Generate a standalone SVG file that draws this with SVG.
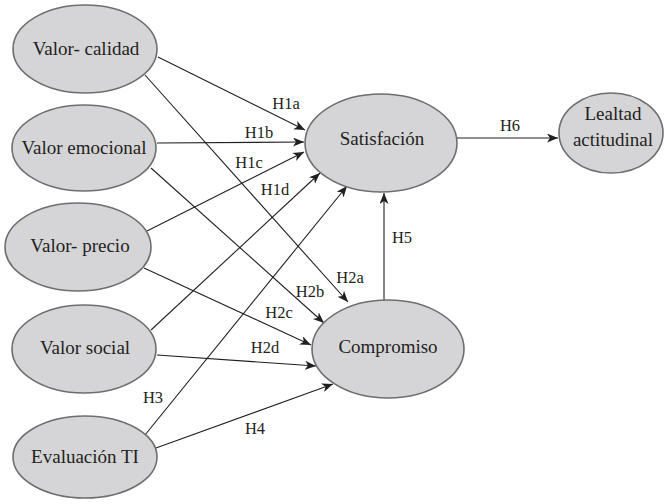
<svg xmlns="http://www.w3.org/2000/svg" width="664" height="504" viewBox="0 0 664 504">
<style>
.n ellipse{fill:#d5d5d7;stroke:#6e6e70;stroke-width:1.6}
.n text{font-size:19px;fill:#231f20;text-anchor:middle}
.c line{stroke:#231f20;stroke-width:1.1;fill:none}
.l text{font-size:16.5px;fill:#231f20;text-anchor:middle}
</style>
<defs>
<marker id="a" markerUnits="userSpaceOnUse" markerWidth="12" markerHeight="10" refX="11" refY="4.5" orient="auto">
<path d="M0,0 L11,4.5 L0,9 L3,4.5 z" fill="#231f20"/>
</marker>
</defs>
<rect width="664" height="504" fill="#fff"/>
<g class="c" id="connectors">
<line x1="158" y1="57" x2="305" y2="130" marker-end="url(#a)"/>
<line x1="157" y1="143" x2="304" y2="142" marker-end="url(#a)"/>
<line x1="147" y1="231" x2="304" y2="152" marker-end="url(#a)"/>
<line x1="151" y1="330" x2="320" y2="173" marker-end="url(#a)"/>
<line x1="145" y1="435" x2="347" y2="186" marker-end="url(#a)"/>
<line x1="145" y1="75" x2="348" y2="302" marker-end="url(#a)"/>
<line x1="151" y1="168" x2="324" y2="323" marker-end="url(#a)"/>
<line x1="144" y1="268" x2="311" y2="345" marker-end="url(#a)"/>
<line x1="157" y1="355" x2="316" y2="366" marker-end="url(#a)"/>
<line x1="156" y1="448" x2="333" y2="384" marker-end="url(#a)"/>
<line x1="384" y1="300" x2="384" y2="193" marker-end="url(#a)"/>
<line x1="457" y1="138" x2="558" y2="138" marker-end="url(#a)"/>
</g>
<g class="l" id="labels" font-family="'Liberation Serif', 'Times New Roman', 'DejaVu Serif', serif">
<text x="286" y="109">H1a</text>
<text x="259" y="138">H1b</text>
<text x="249" y="168">H1c</text>
<text x="275" y="195">H1d</text>
<text x="350" y="283">H2a</text>
<text x="310" y="297">H2b</text>
<text x="279" y="318">H2c</text>
<text x="265" y="353">H2d</text>
<text x="153" y="403">H3</text>
<text x="255" y="434">H4</text>
<text x="402" y="243">H5</text>
<text x="510" y="131">H6</text>
</g>
<g font-family="'Liberation Serif', 'Times New Roman', 'DejaVu Serif', serif">
<g class="n" id="valor-calidad"><ellipse cx="85" cy="49" rx="72" ry="44"/><text x="86" y="55">Valor- calidad</text></g>
<g class="n" id="valor-emocional"><ellipse cx="84" cy="148" rx="72" ry="43"/><text x="84" y="154">Valor emocional</text></g>
<g class="n" id="valor-precio"><ellipse cx="78" cy="247" rx="73" ry="44"/><text x="80" y="252">Valor- precio</text></g>
<g class="n" id="valor-social"><ellipse cx="84" cy="349" rx="72" ry="44"/><text x="85" y="354">Valor social</text></g>
<g class="n" id="evaluacion-ti"><ellipse cx="85" cy="457" rx="72" ry="41"/><text x="85" y="463">Evaluación TI</text></g>
<g class="n" id="satisfacion"><ellipse cx="381" cy="143" rx="76" ry="49"/><text x="382" y="145">Satisfación</text></g>
<g class="n" id="compromiso"><ellipse cx="388" cy="349" rx="76" ry="49"/><text x="388" y="353">Compromiso</text></g>
<g class="n" id="lealtad"><ellipse cx="611" cy="133" rx="52" ry="40"/><text x="613" y="120">Lealtad</text><text x="613" y="146">actitudinal</text></g>
</g>
</svg>
